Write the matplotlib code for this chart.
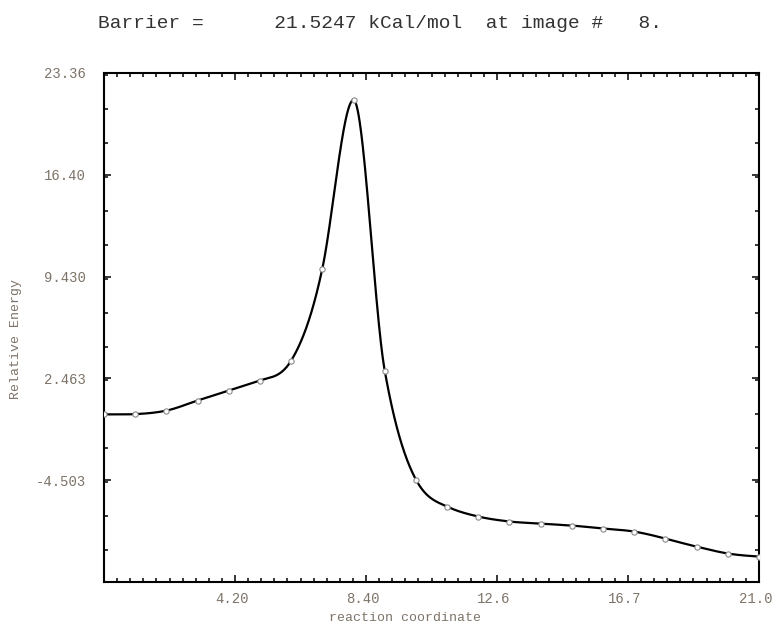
import numpy as np
import matplotlib
matplotlib.use("Agg")
import matplotlib.pyplot as plt
import matplotlib.transforms as mtrans
from matplotlib.ticker import FixedLocator, MultipleLocator

# NEB images: reaction coordinate, relative energy (kcal/mol) and tangent slope
image_x = [0, 1, 2, 3, 4, 5, 6, 7, 8, 9, 10, 11, 12, 13, 14, 15, 16, 17, 18, 19, 20, 21]
energy = [0.0, 0.02, 0.26, 0.95, 1.63, 2.32, 3.68, 9.98, 21.5247, 3.00, -4.46,
          -6.31, -6.99, -7.33, -7.47, -7.61, -7.81, -8.02, -8.50, -9.05, -9.52, -9.73]
slope = [0.0, 0.1, 0.45, 0.7, 0.7, 0.7, 3.5, 10.0, 0.0, -12.0, -4.0,
         -1.0, -0.5, -0.25, -0.15, -0.15, -0.2, -0.35, -0.55, -0.5, -0.35, -0.15]

xtick_labels = ["4.20", "8.40", "12.6", "16.7", "21.0"]
ytick_labels = ["-4.503", "2.463", "9.430", "16.40", "23.36"]
ymin, ymax = -11.47, 23.365
xmax = 21.0

barrier = max(energy)
peak_image = energy.index(barrier)
title = "Barrier =      %.4f kCal/mol  at image #   %d." % (barrier, peak_image)


def hermite_curve(x, y, m, n=60):
    # cubic Hermite segments between images using energies and slopes
    xs, ys = [], []
    for i in range(len(x) - 1):
        h = x[i + 1] - x[i]
        t = np.linspace(0, 1, n, endpoint=False)
        h00 = 2 * t**3 - 3 * t**2 + 1
        h10 = t**3 - 2 * t**2 + t
        h01 = -2 * t**3 + 3 * t**2
        h11 = t**3 - t**2
        xs.append(x[i] + t * h)
        ys.append(h00 * y[i] + h10 * h * m[i] + h01 * y[i + 1] + h11 * h * m[i + 1])
    xs.append([x[-1]])
    ys.append([y[-1]])
    return np.concatenate(xs), np.concatenate(ys)


mono = "Liberation Mono"
label_col = "#7d7368"

fig = plt.figure(figsize=(7.74, 6.27), dpi=100)
ax = fig.add_axes([104 / 774, 1 - 582 / 627, 655 / 774, 509 / 627])

cx, cy = hermite_curve(image_x, energy, slope)
ax.plot(cx, cy, color="black", lw=1.6, zorder=3)
ax.plot(image_x, energy, ls="none", marker="o", ms=3.8, mfc="white",
        mec="#8a8a8a", mew=0.8, zorder=4)

ax.set_xlim(0, xmax)
ax.set_ylim(ymin, ymax)

ax.xaxis.set_major_locator(FixedLocator([xmax * k / 5 for k in range(1, 6)]))
ax.set_xticklabels(xtick_labels)
ax.xaxis.set_minor_locator(MultipleLocator(xmax / 50))
ystep = (ymax - ymin) / 5
ax.yaxis.set_major_locator(FixedLocator([ymin + ystep * k for k in range(1, 6)]))
ax.set_yticklabels(ytick_labels)
ax.yaxis.set_minor_locator(MultipleLocator(ystep / 3))

ax.tick_params(which="both", direction="in", top=True, right=True,
               width=1.1, color="black")
ax.tick_params(which="major", length=5)
ax.tick_params(which="minor", length=2.8)
ax.tick_params(axis="y", which="major", pad=13)
ax.tick_params(axis="x", which="major", pad=7)

# x labels sit a little left of their ticks
shift = mtrans.ScaledTranslation(-0.035, 0, fig.dpi_scale_trans)
for lab in ax.get_xticklabels():
    lab.set_transform(lab.get_transform() + shift)
for lab in ax.get_xticklabels() + ax.get_yticklabels():
    lab.set_fontfamily(mono)
    lab.set_fontsize(10)
    lab.set_color(label_col)

for sp in ax.spines.values():
    sp.set_linewidth(1.5)

fig.text(98 / 774, 1 - 28 / 627, title, family=mono, fontsize=14,
         color="#333333", ha="left", va="baseline")
fig.text(405 / 774, 1 - 618 / 627, "reaction coordinate", family=mono,
         fontsize=9.5, color=label_col, ha="center", va="center")
fig.text(16 / 774, 1 - 339 / 627, "Relative Energy", family=mono,
         fontsize=9.5, color=label_col, ha="center", va="center", rotation=90)

fig.savefig("out.png", dpi=100)
